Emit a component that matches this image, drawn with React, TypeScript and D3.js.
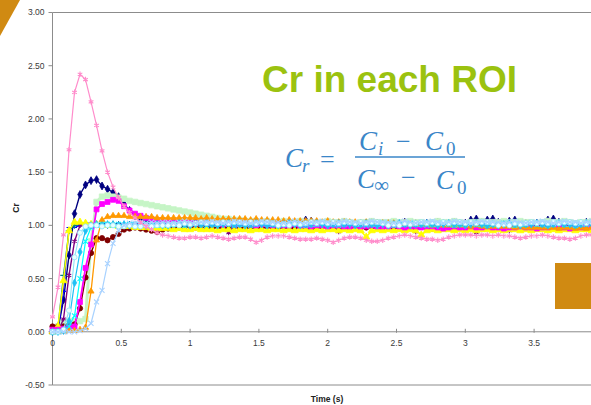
import React from "react";
import * as d3 from "d3";

const DT = 0.04;
const xTicks = [0, 0.5, 1, 1.5, 2, 2.5, 3, 3.5];
const xTickLabels = ["0", "0.5", "1", "1.5", "2", "2.5", "3", "3.5"];
const yTicks = [-0.5, 0, 0.5, 1, 1.5, 2, 2.5, 3];

const navy = [0.00,0.02,0.30,0.72,1.11,1.29,1.38,1.42,1.43,1.37,1.34,1.31,1.27,1.20,1.14,1.09,1.06,1.04,1.03,1.02,1.02,
1.01,1.02,1.02,1.01,1.02,1.03,1.02,1.01,1.02,1.02,1.01,1.02,1.03,1.02,1.02,1.01,1.02,1.02,1.03,1.02,
1.02,1.01,1.02,1.02,1.03,1.05,1.04,1.02,1.02,1.01,1.02,1.02,1.03,1.02,1.01,1.02,1.02,1.03,1.02,1.02,
1.02,1.01,1.02,1.03,1.02,1.02,1.01,1.02,1.02,1.03,1.02,1.02,1.03,1.02,1.02,1.05,1.06,1.03,1.05,1.06,
1.03,1.02,1.04,1.05,1.02,1.02,1.01,1.02,1.02,1.05,1.06,1.03,1.02,1.02,1.01,1.02,1.03,1.02];

const magenta = [0.02,0.02,0.03,0.04,0.05,0.28,0.60,0.82,1.15,1.20,1.22,1.24,1.23,1.18,1.14,1.11,1.09,1.07,1.06,1.05,1.05,
1.04,1.04,1.03,1.03,1.03,1.02,1.03,1.02,1.02,1.02,1.01,1.02,1.01,1.01,1.02,1.01,1.00,1.01,1.01,1.00,
1.01,1.00,1.00,1.01,1.00,1.00,0.99,1.00,1.00,0.99,1.00,1.00,0.99,0.99,1.00,0.99,0.99,1.00,0.99,0.99,
0.99,1.00,0.99,0.98,0.99,0.99,0.98,0.99,0.99,0.98,0.97,0.98,0.99,0.98,0.98,0.99,0.98,0.98,0.99,0.98,
0.98,0.97,0.98,0.98,0.99,0.98,0.98,0.97,0.98,0.98,0.99,0.98,0.98,0.97,0.98,0.98,0.98,0.99];

const yellow = [0.00,0.05,0.48,0.95,1.03,1.03,1.02,1.01,1.01,1.00,1.00,1.00,0.99,0.99,0.99,0.98,0.98,0.98,0.97,0.97,0.97,
0.97,0.96,0.97,0.96,0.96,0.97,0.96,0.96,0.96,0.95,0.96,0.96,0.95,0.96,0.96,0.95,0.96,0.96,0.95,0.96,
0.96,0.95,0.96,0.95,0.96,0.96,0.95,0.96,0.95,0.96,0.96,0.95,0.96,0.95,0.96,0.95,0.89,0.95,0.96,0.95,
0.96,0.95,0.96,0.95,0.96,0.95,0.91,0.95,0.96,0.95,0.96,0.96,0.95,0.96,0.95,0.96,0.95,0.96,0.96,0.95,
0.96,0.95,0.96,0.96,0.95,0.96,0.95,0.96,0.96,0.95,0.96,0.95,0.96,0.96,0.95,0.96,0.96,0.95];

const cyan = [0.00,0.00,0.01,0.05,0.15,0.50,0.85,0.98,1.00,1.01,1.01,1.00,1.01,1.00,1.01,1.01,1.00,1.01,1.00,1.00,1.01,
1.00,1.01,1.01,1.00,1.01,1.02,1.01,1.00,1.01,1.01,1.02,1.01,1.00,1.01,1.01,1.00,1.01,1.02,1.01,1.01,
1.00,1.01,1.01,1.02,1.01,1.00,1.01,1.01,1.02,1.01,1.01,1.00,1.01,1.02,1.01,1.01,1.00,1.01,1.01,1.02,
1.01,1.00,1.01,1.01,1.02,1.01,1.01,1.00,1.01,1.01,1.02,1.01,1.00,1.01,1.01,1.02,1.01,1.01,1.00,1.01,
1.01,1.02,1.01,1.00,1.01,1.01,1.02,1.01,1.01,1.00,1.01,1.02,1.01,1.01,1.00,1.01,1.01,1.02];

const purple = [0.00,0.00,0.12,0.53,0.85,1.00,1.01,1.01,1.00,1.01,1.00,1.00,1.01,1.00,1.00,1.01,1.00,1.00,0.99,1.00,1.00,
1.00,0.99,1.00,1.00,0.99,1.00,1.00,0.99,1.00,1.00,0.99,0.93,0.99,1.00,1.00,0.99,1.00,1.00,0.99,1.00,
1.00,0.99,1.00,1.00,0.99,1.00,1.00,0.99,1.00,1.00,0.99,0.94,0.99,1.00,1.00,0.99,1.00,1.00,0.99,1.00,
1.00,0.99,1.00,1.00,0.99,0.94,1.00,0.99,1.00,1.00,0.99,1.00,1.00,0.99,1.00,1.00,0.93,0.99,1.00,1.00,
0.99,1.00,0.95,1.00,0.99,1.00,1.00,0.99,1.00,1.00,0.99,1.00,1.00,0.99,1.00,1.00,0.99,1.00];

const darkRed = [0.05,0.05,0.05,0.06,0.07,0.22,0.51,0.74,0.88,0.88,0.86,0.89,0.92,0.96,0.97,0.98,0.97,0.96,0.95,0.94,0.96,
0.97,0.98,0.98,0.99,0.99,0.98,0.99,0.99,0.98,0.99,0.98,0.98,0.99,0.98,0.98,0.99,0.98,0.98,0.99,0.98,
0.98,0.99,0.98,0.98,0.99,0.98,0.97,0.98,0.99,0.98,0.98,0.99,0.98,0.98,0.99,0.98,0.98,0.99,0.98,0.98,
0.99,0.98,0.98,0.99,0.98,0.98,0.99,0.98,0.97,0.98,0.99,0.98,0.98,0.99,0.98,0.98,0.99,0.98,0.98,0.99,
0.98,0.98,0.99,0.98,0.98,0.99,0.98,0.98,0.99,0.98,0.98,0.99,0.98,0.98,0.99,0.98,0.98,0.99];

const teal = [0.00,0.05,0.53,0.95,1.00,1.01,1.01,1.00,1.01,1.01,1.00,1.01,1.01,1.00,1.01,1.00,1.01,1.01,1.00,1.01,1.00,
1.01,1.00,1.01,1.01,1.00,1.01,1.00,1.01,1.01,1.00,1.00,1.01,1.01,1.00,1.01,1.00,1.01,1.01,1.00,1.01,
1.00,1.01,1.00,1.01,1.01,1.00,1.01,1.00,1.01,1.01,1.00,1.01,1.00,1.01,1.01,1.00,1.01,1.00,1.01,1.01,
1.00,1.01,1.00,1.01,1.01,1.00,1.01,1.00,1.01,1.01,1.00,1.01,1.00,1.01,1.01,1.00,1.01,1.00,1.01,1.01,
1.00,1.01,1.00,1.01,1.01,1.00,1.01,1.00,1.01,1.01,1.00,1.01,1.00,1.01,1.01,1.00,1.01,1.00];

const blue = [0.00,0.00,0.38,0.98,0.98,1.00,1.02,1.02,1.01,1.02,1.02,1.01,1.02,1.01,1.02,1.02,1.01,1.02,1.01,1.02,1.02,
1.01,1.02,1.02,1.01,1.02,1.01,1.02,1.02,1.01,1.02,1.01,1.02,1.02,1.01,1.02,1.01,1.02,1.02,1.01,1.02,
1.01,1.02,1.02,1.01,1.02,1.01,1.02,1.02,1.01,1.02,1.01,1.02,1.02,1.01,1.02,1.01,1.02,1.02,1.01,1.02,
1.01,1.02,1.02,1.01,1.02,1.01,1.02,1.02,1.01,1.02,1.01,1.02,1.02,1.01,1.02,1.01,1.02,1.02,1.01,1.02,
1.01,1.02,1.02,1.01,1.02,1.01,1.02,1.02,1.01,1.02,1.01,1.02,1.02,1.01,1.02,1.01,1.02,1.02];

const skyBlue = [0.00,0.00,0.01,0.10,0.46,0.75,0.95,1.00,1.01,1.00,1.01,1.01,1.00,1.01,1.00,1.00,1.01,1.00,1.00,1.01,1.00,
1.00,1.01,1.02,1.01,1.00,1.01,1.01,1.02,1.01,1.00,1.01,1.02,1.01,1.01,1.00,1.01,1.02,1.01,1.00,1.01,
1.00,1.01,1.02,1.01,1.00,1.01,1.01,1.02,1.01,1.00,1.01,1.02,1.01,1.01,1.00,1.01,1.02,1.01,1.00,1.01,
1.00,1.01,1.02,1.01,1.00,1.01,1.01,1.02,1.01,1.00,1.01,1.02,1.01,1.01,1.00,1.01,1.02,1.01,1.00,1.01,
1.00,1.01,1.02,1.01,1.00,1.01,1.01,1.02,1.01,1.00,1.01,1.02,1.01,1.01,1.00,1.01,1.02,1.01];

const paleCyan = [0.00,0.00,0.02,0.20,0.70,0.93,0.99,1.00,1.00,0.99,1.00,1.00,0.99,0.99,1.00,0.99,0.99,1.00,0.99,1.00,1.00,
1.00,1.01,1.00,1.02,1.01,1.02,1.03,1.02,1.03,1.02,1.03,1.02,1.03,1.03,1.02,1.03,1.02,1.03,1.03,1.02,
1.00,1.01,1.00,1.02,1.01,1.02,1.03,1.02,1.03,1.02,1.03,1.02,1.03,1.03,1.02,1.03,1.02,1.03,1.03,1.02,
1.00,1.01,1.00,1.02,1.01,1.02,1.03,1.02,1.03,1.02,1.03,1.02,1.03,1.03,1.02,1.03,1.02,1.03,1.03,1.02,
1.00,1.01,1.00,1.02,1.01,1.02,1.03,1.02,1.03,1.02,1.03,1.02,1.03,1.03,1.02,1.03,1.02,1.03];

const lightGreen = [0.00,0.05,0.09,0.10,0.10,0.10,0.12,0.85,1.22,1.27,1.28,1.27,1.26,1.25,1.23,1.22,1.21,1.20,1.19,1.18,1.17,
1.16,1.15,1.14,1.13,1.12,1.11,1.10,1.09,1.08,1.07,1.06,1.06,1.05,1.05,1.04,1.04,1.04,1.03,1.04,1.03,
1.03,1.04,1.03,1.03,1.04,1.03,1.03,1.02,1.03,1.04,1.03,1.03,1.04,1.03,1.02,1.03,1.03,1.04,1.03,1.03,
1.03,1.04,1.03,1.03,1.04,1.03,1.03,1.02,1.03,1.04,1.03,1.03,1.04,1.03,1.02,1.03,1.03,1.04,1.03,1.03,
1.03,1.04,1.03,1.03,1.04,1.03,1.03,1.02,1.03,1.04,1.03,1.03,1.04,1.03,1.02,1.03,1.03,1.04];

const lightBlue = [0.00,0.00,0.00,0.00,0.00,0.01,0.03,0.08,0.28,0.39,0.64,0.83,0.95,1.00,1.02,1.02,1.03,1.02,1.03,1.02,1.03,
1.03,1.02,1.03,1.04,1.03,1.02,1.03,1.03,1.04,1.03,1.02,1.03,1.04,1.03,1.03,1.02,1.03,1.04,1.03,1.03,
1.03,1.02,1.03,1.04,1.03,1.02,1.03,1.03,1.04,1.03,1.02,1.03,1.04,1.03,1.03,1.02,1.03,1.04,1.03,1.03,
1.03,1.02,1.03,1.04,1.03,1.02,1.03,1.03,1.04,1.03,1.02,1.03,1.04,1.03,1.03,1.02,1.03,1.04,1.03,1.03,
1.03,1.02,1.03,1.04,1.03,1.02,1.03,1.03,1.04,1.03,1.02,1.03,1.04,1.03,1.03,1.02,1.03,1.04];

const orange = [0.00,0.00,0.00,0.01,0.01,0.02,0.04,0.38,0.86,1.05,1.08,1.09,1.09,1.09,1.08,1.08,1.08,1.08,1.08,1.07,1.07,
1.07,1.07,1.07,1.07,1.07,1.07,1.06,1.07,1.06,1.06,1.06,1.06,1.06,1.06,1.06,1.05,1.06,1.05,1.05,1.05,
1.05,1.04,1.05,1.04,1.04,1.04,1.04,1.04,1.03,1.04,1.03,1.03,1.03,1.03,1.03,1.02,1.03,1.02,1.02,1.02,
1.02,1.02,1.01,1.02,1.01,1.01,1.01,1.01,1.00,1.01,1.00,1.00,1.00,1.00,1.00,0.99,1.00,0.99,0.99,0.99,
0.99,0.99,0.99,0.98,0.99,0.98,0.98,0.98,0.98,0.98,0.98,0.97,0.98,0.98,0.97,0.98,0.97,0.98];

const pink = [0.14,0.42,0.91,1.71,2.25,2.42,2.37,2.16,1.94,1.70,1.50,1.36,1.26,1.18,1.12,1.07,1.03,0.99,0.96,0.93,0.91,
0.90,0.89,0.88,0.88,0.89,0.89,0.88,0.89,0.90,0.89,0.88,0.87,0.88,0.89,0.89,0.87,0.84,0.86,0.89,0.90,
0.90,0.90,0.89,0.88,0.87,0.87,0.87,0.88,0.87,0.86,0.84,0.86,0.88,0.89,0.89,0.88,0.86,0.85,0.85,0.86,
0.88,0.89,0.90,0.91,0.90,0.89,0.88,0.87,0.87,0.86,0.87,0.89,0.90,0.91,0.91,0.91,0.90,0.91,0.91,0.90,
0.91,0.90,0.90,0.89,0.88,0.89,0.90,0.90,0.91,0.90,0.89,0.88,0.88,0.87,0.88,0.90,0.91,0.91];

type Mk = "diamond" | "square" | "triangle" | "times" | "asterisk" | "circle" | "plus" | "dash";
const series: { name: string; values: number[]; color: string; fill: string; marker: Mk; width: number; msize: number }[] = [
  { name: "S1", values: navy, color: "#000080", fill: "#000080", marker: "diamond", width: 1.4, msize: 18 },
  { name: "S11", values: lightGreen, color: "#c6f5c6", fill: "#c6f5c6", marker: "square", width: 3, msize: 30 },
  { name: "S8", values: blue, color: "#0000ff", fill: "#0000ff", marker: "dash", width: 1.2, msize: 16 },
  { name: "S7", values: teal, color: "#008080", fill: "#008080", marker: "plus", width: 1.3, msize: 16 },
  { name: "S6", values: darkRed, color: "#800000", fill: "#800000", marker: "circle", width: 1.4, msize: 22 },
  { name: "S5", values: purple, color: "#800080", fill: "#800080", marker: "asterisk", width: 1.4, msize: 18 },
  { name: "S3", values: yellow, color: "#ffff00", fill: "#ffff00", marker: "triangle", width: 1.5, msize: 22 },
  { name: "S2", values: magenta, color: "#ff00ff", fill: "#ff00ff", marker: "square", width: 1.8, msize: 24 },
  { name: "S13", values: orange, color: "#ff9900", fill: "#ff9900", marker: "triangle", width: 1.3, msize: 16 },
  { name: "S4", values: cyan, color: "#00ffff", fill: "#00ffff", marker: "times", width: 1.2, msize: 18 },
  { name: "S9", values: skyBlue, color: "#1fc0f5", fill: "#1fc0f5", marker: "diamond", width: 1.2, msize: 16 },
  { name: "S10", values: paleCyan, color: "#8fe3f7", fill: "#eaffff", marker: "circle", width: 1.1, msize: 20 },
  { name: "S12", values: lightBlue, color: "#a8d2ff", fill: "#a8d2ff", marker: "times", width: 1.2, msize: 18 },
  { name: "S14", values: pink, color: "#ff8ccb", fill: "#ff8ccb", marker: "asterisk", width: 1.2, msize: 20 },
];

const W = 591, H = 405;
const x = d3.scaleLinear().domain([0, 4]).range([52.5, 602.9]);
const y = d3.scaleLinear().domain([-0.5, 3]).range([385, 12.5]);

function markerPath(m: Mk, size: number): string {
  if (m === "dash") {
    const h = Math.sqrt(size) / 2 + 0.5;
    return `M${-h},0H${h}`;
  }
  const map: Record<string, d3.SymbolType> = {
    diamond: d3.symbolDiamond,
    square: d3.symbolSquare,
    triangle: d3.symbolTriangle,
    times: d3.symbolTimes,
    asterisk: d3.symbolAsterisk,
    circle: d3.symbolCircle,
    plus: d3.symbolPlus,
  };
  return d3.symbol().type(map[m]).size(size)() || "";
}

const strokeOnly = new Set(["times", "asterisk", "plus", "dash"]);

export default function App() {
  const line = d3
    .line<number>()
    .x((_, i) => x(i * DT))
    .y((v) => y(v));
  const font = "'Liberation Sans', Arial, sans-serif";
  const axisColor = "#8c8c8c";
  const mathColor = "#3a86c8";
  const mathFont = "'Liberation Serif', 'DejaVu Serif', serif";
  return (
    <svg width={W} height={H} style={{ position: "absolute", left: 0, top: 0, background: "#fff" }}>
      <defs>
        <clipPath id="plot">
          <rect x={x(0) - 5} y={y(3) - 5} width={W} height={y(-0.5) - y(3) + 10} />
        </clipPath>
      </defs>
      <line x1={x(0)} x2={W} y1={y(3)} y2={y(3)} stroke={axisColor} strokeWidth={1} />
      <line x1={x(0)} x2={W} y1={y(-0.5)} y2={y(-0.5)} stroke={axisColor} strokeWidth={1} />
      <line x1={x(0)} x2={x(0)} y1={y(3)} y2={y(-0.5)} stroke={axisColor} strokeWidth={1} />
      <line x1={x(0)} x2={W} y1={y(0)} y2={y(0)} stroke={axisColor} strokeWidth={1} />
      {yTicks.map((t) => (
        <g key={"yt" + t}>
          <line x1={x(0) - 4} x2={x(0)} y1={y(t)} y2={y(t)} stroke={axisColor} />
          <text x={x(0) - 8} y={y(t)} dy="0.35em" textAnchor="end" fontFamily={font} fontSize={8.5} fill="#3a3a3a">
            {t.toFixed(2)}
          </text>
        </g>
      ))}
      {xTicks.map((t, i) => (
        <g key={"xt" + t}>
          <line x1={x(t)} x2={x(t)} y1={y(0) - 3} y2={y(0) + 1} stroke={axisColor} />
          <text x={x(t)} y={y(0) + 14} textAnchor="middle" fontFamily={font} fontSize={8.5} fill="#3a3a3a">
            {xTickLabels[i]}
          </text>
        </g>
      ))}
      <text transform={`translate(19,208) rotate(-90)`} textAnchor="middle" fontFamily={font} fontSize={8.5} fontWeight="bold" fill="#222">
        Cr
      </text>
      <text x={327} y={402} textAnchor="middle" fontFamily={font} fontSize={8.5} fontWeight="bold" fill="#222">
        Time (s)
      </text>
      <g clipPath="url(#plot)">
        {series.map((s) => (
          <g key={s.name}>
            <path d={line(s.values) || ""} fill="none" stroke={s.color} strokeWidth={s.width} strokeLinejoin="round" />
            {s.values.map((v, i) => (
              <path
                key={i}
                d={markerPath(s.marker, s.msize)}
                transform={`translate(${x(i * DT)},${y(v)})`}
                fill={strokeOnly.has(s.marker) ? "none" : s.fill}
                stroke={s.color}
                strokeWidth={strokeOnly.has(s.marker) ? 1.1 : 0.8}
              />
            ))}
          </g>
        ))}
      </g>
      <polygon points="0,0 20,0 0,36" fill="#d08a12" />
      <rect x={555} y={263} width={40} height={46} fill="#d08a12" />
      <text x={262} y={92} fontFamily={font} fontSize={37} fontWeight="bold" fill="#9bc20f">
        Cr in each ROI
      </text>
      <g fill={mathColor} fontFamily={mathFont}>
        <text x={285} y={167} fontSize={27} fontStyle="italic">C</text>
        <text x={302} y={172} fontSize={19} fontStyle="italic">r</text>
        <text x={320} y={168} fontSize={26}>=</text>
        <text x={359} y={150} fontSize={27} fontStyle="italic">C</text>
        <text x={378} y={155} fontSize={19} fontStyle="italic">i</text>
        <text x={396} y={150} fontSize={26}>−</text>
        <text x={425} y={150} fontSize={27} fontStyle="italic">C</text>
        <text x={446} y={155} fontSize={19}>0</text>
        <line x1={355} x2={465} y1={157} y2={157} stroke={mathColor} strokeWidth={1.6} />
        <text x={357} y={188} fontSize={27} fontStyle="italic">C</text>
        <text x={374} y={192} fontSize={21}>∞</text>
        <text x={401} y={186} fontSize={26}>−</text>
        <text x={436} y={189} fontSize={27} fontStyle="italic">C</text>
        <text x={457} y={194} fontSize={19}>0</text>
      </g>
    </svg>
  );
}
